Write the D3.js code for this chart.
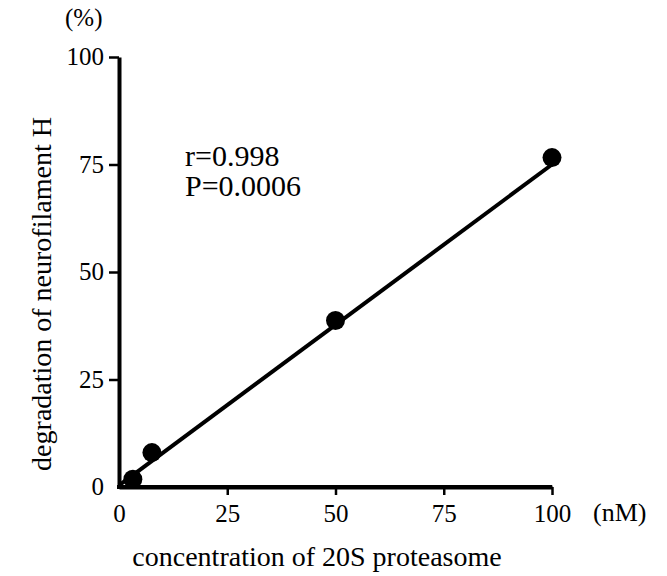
<!DOCTYPE html>
<html>
<head>
<meta charset="utf-8">
<script src="https://cdn.jsdelivr.net/npm/d3@7"></script>
<style>
  body { margin: 0; background: #fff; }
  svg { display: block; }
  svg text { font-family: "Liberation Serif", "DejaVu Serif", serif; fill: #000; }
</style>
</head>
<body>
<div id="chart"></div>
<script>
// concentration (nM) vs degradation (%)
var concentration = [3.2, 7.6, 50, 100];
var degradation = [1.8, 8, 38.7, 76.6];
// regression line end points
var fitX = [0, 100];
var fitY = [0.4, 75];
var xTicks = [0, 25, 50, 75, 100];
var yTicks = [0, 25, 50, 75, 100];

var width = 667, height = 576;

var svg = d3.select("#chart")
    .append("svg")
    .attr("width", width)
    .attr("height", height);

var x = d3.scaleLinear().domain([0, 100]).range([119, 552]);
var y = d3.scaleLinear().domain([0, 100]).range([487, 57]);

// x axis
var gx = svg.append("g")
    .attr("transform", "translate(0," + y(0) + ")")
    .call(d3.axisBottom(x).tickValues(xTicks).tickSize(8).tickSizeOuter(0).tickPadding(9));

// y axis
var gy = svg.append("g")
    .attr("transform", "translate(" + x(0) + ",0)")
    .call(d3.axisLeft(y).tickValues(yTicks).tickSize(10).tickSizeOuter(0).tickPadding(5));

[gx, gy].forEach(function(g) {
    g.attr("font-family", null).attr("font-size", null);
    g.select(".domain").attr("stroke", "#000").attr("stroke-width", 4);
    g.selectAll(".tick line").attr("stroke", "#000").attr("stroke-width", 2.5)
        .filter(function(d) { return d === 0; }).remove();
    g.selectAll(".tick text").style("font-size", "25px");
});
gy.selectAll(".tick text").attr("dy", "0.3em");

// regression line
svg.append("path")
    .datum(fitX.map(function(d, i) { return [d, fitY[i]]; }))
    .attr("fill", "none")
    .attr("stroke", "#000")
    .attr("stroke-width", 4)
    .attr("d", d3.line()
        .x(function(d) { return x(d[0]); })
        .y(function(d) { return y(d[1]); }));

// data points
svg.selectAll(".dot")
    .data(concentration)
    .enter()
    .append("circle")
    .attr("class", "dot")
    .attr("cx", function(d) { return x(d); })
    .attr("cy", function(d, i) { return y(degradation[i]); })
    .attr("r", 9.5)
    .attr("fill", "#000");

// redraw x axis domain on top of the first dot
svg.append("line")
    .attr("x1", x(0) - 2).attr("x2", x(100))
    .attr("y1", y(0)).attr("y2", y(0))
    .attr("stroke", "#000").attr("stroke-width", 4);

// unit labels
svg.append("text")
    .attr("x", 65).attr("y", 26)
    .style("font-size", "25px")
    .text("(%)");

svg.append("text")
    .attr("x", 593).attr("y", 521)
    .style("font-size", "26px")
    .text("(nM)");

// statistics
svg.append("text")
    .attr("x", 185).attr("y", 166)
    .style("font-size", "30px")
    .text("r=0.998");

svg.append("text")
    .attr("x", 185).attr("y", 196)
    .style("font-size", "30px")
    .text("P=0.0006");

// axis titles
svg.append("text")
    .attr("x", 317).attr("y", 566)
    .style("text-anchor", "middle")
    .style("font-size", "28px")
    .text("concentration of 20S proteasome");

svg.append("text")
    .attr("transform", "translate(51,294) rotate(-90)")
    .style("text-anchor", "middle")
    .style("font-size", "28px")
    .text("degradation of neurofilament H");
</script>
</body>
</html>
